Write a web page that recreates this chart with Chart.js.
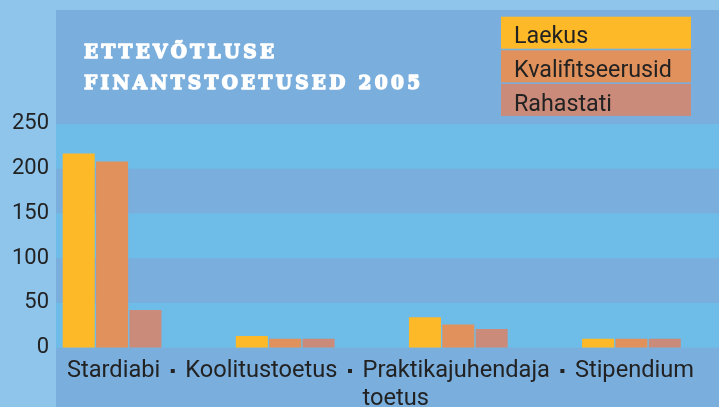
<!DOCTYPE html>
<html><head><meta charset="utf-8">
<script src="https://cdn.jsdelivr.net/npm/chart.js@4"></script>
<style>html,body{margin:0;padding:0;background:#8fc4eb;}canvas{display:block}</style>
</head><body>
<canvas id="c" width="719" height="407"></canvas>
<script>
// ---- data ----
const categories = ['Stardiabi', 'Koolitustoetus', ['Praktikajuhendaja', 'toetus'], 'Stipendium'];
const seriesNames = ['Laekus', 'Kvalifitseerusid', 'Rahastati'];
const laekus = [217, 13, 34, 10];
const kvalifitseerusid = [208, 10, 26, 10];
const rahastati = [42, 10, 21, 10];
const yMin = 0, yMax = 250, yStep = 50;
const titleLines = ['ETTEVÕTLUSE', 'FINANTSTOETUSED 2005'];

// ---- style ----
const COLORS = ['#fdb927', '#e1915c', '#ca8b7a'];
const OUTER = '#8fc4eb', PANEL = '#7aaedd', STRIPE = '#6ebde8', TEXT = '#222222';
const SANS = 'Roboto, "Noto Sans", sans-serif';
const SERIF = '"DejaVu Serif", "Liberation Serif", serif';

const mctx = document.createElement('canvas').getContext('2d');
function mw(t, size, font, weight) { mctx.font = (weight || 'normal') + ' ' + size + 'px ' + font; return mctx.measureText(t).width; }
const firstLines = categories.map(c => Array.isArray(c) ? c[0] : c);
const labelSize = Math.min(26, 100 * 552 / firstLines.reduce((s, t) => s + mw(t, 100, SANS), 0));
const legendSize = Math.min(26, 100 * 158 / mw('Kvalifitseerusid', 100, SANS));
const tickSize = Math.min(26, 100 * 37 / mw('250', 100, SANS));
const AXIS_LEFT = 25.5, TICK_RIGHT = 49;
const tickPad = TICK_RIGHT - AXIS_LEFT - mw('250', tickSize, SANS);

const datasets = [laekus, kvalifitseerusid, rahastati].map((d, i) => ({
  label: seriesNames[i], data: d, backgroundColor: COLORS[i], borderWidth: 0,
  categoryPercentage: 0.578, barPercentage: 0.96
}));

const decor = {
  id: 'decor',
  beforeDraw(chart) {
    const ctx = chart.ctx, y = chart.scales.y;
    ctx.save();
    ctx.fillStyle = OUTER; ctx.fillRect(0, 0, chart.width, chart.height);
    ctx.fillStyle = PANEL; ctx.fillRect(56, 10, chart.width - 56, chart.height - 10);
    ctx.fillStyle = STRIPE;
    for (let v = yMin; v < yMax; v += 2 * yStep) {
      const t = y.getPixelForValue(v + yStep), b = y.getPixelForValue(v);
      ctx.fillRect(56, t, chart.width - 56, b - t);
    }
    ctx.restore();
  },
  afterDraw(chart) {
    const ctx = chart.ctx;
    ctx.save();
    // title, drawn letter by letter with tracking
    ctx.font = 'bold 18.5px ' + SERIF;
    ctx.fillStyle = '#ffffff';
    ctx.strokeStyle = '#ffffff';
    ctx.lineWidth = 1.5;
    ctx.lineJoin = 'round';
    ctx.textBaseline = 'alphabetic';
    ctx.textAlign = 'left';
    const l2 = titleLines[1];
    const sum2 = [...l2].reduce((s, ch) => s + ctx.measureText(ch).width, 0);
    const spacing = (336 - sum2) / (l2.length - 1);
    titleLines.forEach((line, li) => {
      let x = 84;
      const by = 58 + li * 30.5;
      for (const ch of line) {
        ctx.fillText(ch, x, by);
        ctx.strokeText(ch, x, by);
        x += ctx.measureText(ch).width + spacing;
      }
    });
    // legend boxes
    ctx.font = legendSize + 'px ' + SANS;
    chart.data.datasets.forEach((ds, i) => {
      const top = 16.7 + i * 33.6;
      ctx.fillStyle = ds.backgroundColor;
      ctx.fillRect(501, top, 190, 32);
      ctx.fillStyle = TEXT;
      ctx.fillText(ds.label, 514, top + 26.6);
    });
    // category line
    ctx.font = labelSize + 'px ' + SANS;
    ctx.fillStyle = TEXT;
    let x = 67;
    const base = 376.7, gap = 10.5;
    categories.forEach((c, i) => {
      const lines = Array.isArray(c) ? c : [c];
      lines.forEach((ln, k) => ctx.fillText(ln, x, base + k * 28.5));
      x += ctx.measureText(lines[0]).width;
      if (i < categories.length - 1) {
        x += gap;
        ctx.fillRect(x, 369, 4, 4);
        x += 4 + gap;
      }
    });
    ctx.restore();
  }
};

new Chart(document.getElementById('c'), {
  type: 'bar',
  data: { labels: categories, datasets },
  options: {
    responsive: false, animation: false, devicePixelRatio: 1,
    layout: { padding: { left: AXIS_LEFT, right: 1, top: 124, bottom: 59.3 } },
    plugins: { legend: { display: false }, tooltip: { enabled: false }, title: { display: false } },
    scales: {
      x: { display: false },
      y: {
        min: yMin, max: yMax,
        ticks: { stepSize: yStep, mirror: true, crossAlign: 'far', padding: tickPad, color: TEXT, font: { family: SANS, size: tickSize } },
        grid: { display: false, drawTicks: false },
        border: { display: false },
        afterFit(s) { s.width = 0; }
      }
    }
  },
  plugins: [decor]
});
</script>
</body></html>
